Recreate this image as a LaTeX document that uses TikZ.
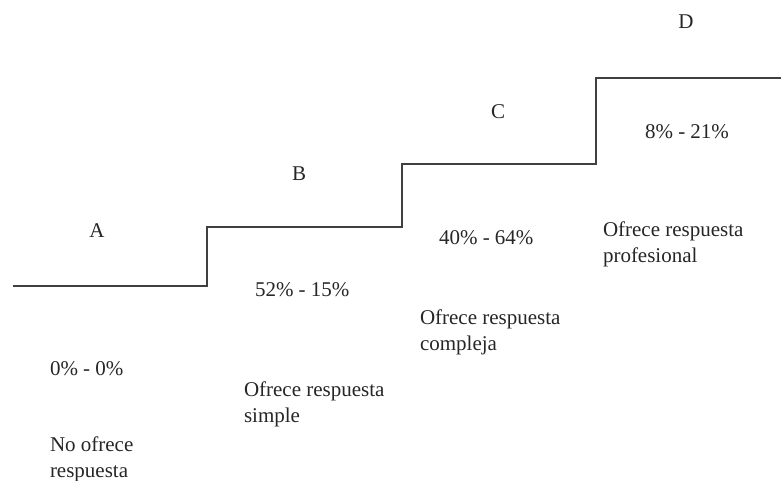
\documentclass[tikz,border=0pt]{standalone}
\usepackage{fontspec}
\setmainfont{Liberation Serif}
\begin{document}
\begin{tikzpicture}[x=1pt,y=-1pt,
  lbl/.style={inner sep=0pt, outer sep=0pt, font=\fontsize{21}{25.5}\selectfont, text=black!85},
  blk/.style={lbl, align=left, anchor=base west},
  stair/.style={draw=black!75, line width=1.3pt, line join=miter}]
\useasboundingbox (0,0) rectangle (781,480);
% staircase corners
\coordinate (s0) at (13,286);
\coordinate (s1) at (207,286);
\coordinate (s2) at (207,227);
\coordinate (s3) at (402,227);
\coordinate (s4) at (402,164);
\coordinate (s5) at (596,164);
\coordinate (s6) at (596,78);
\coordinate (s7) at (781,78);
\draw[stair] (s0) -- (s1) -- (s2) -- (s3) -- (s4) -- (s5) -- (s6) -- (s7);
% step letters
\node[lbl, anchor=base] (A) at (97,237) {A};
\node[lbl, anchor=base] (B) at (299,180) {B};
\node[lbl, anchor=base] (C) at (498,118) {C};
\node[lbl, anchor=base] (D) at (686,28) {D};
% percentages
\node[blk] (pA) at (50,375) {0\% - 0\%};
\node[blk] (pB) at (255,296) {52\% - 15\%};
\node[blk] (pC) at (439,244) {40\% - 64\%};
\node[blk] (pD) at (645,138) {8\% - 21\%};
% descriptions (anchor = baseline of the last line)
\node[blk] (dA) at (50,477) {No ofrece\\respuesta};
\node[blk] (dB) at (244,422) {Ofrece respuesta\\simple};
\node[blk] (dC) at (420,350) {Ofrece respuesta\\compleja};
\node[blk] (dD) at (603,262) {Ofrece respuesta\\profesional};
\end{tikzpicture}
\end{document}
